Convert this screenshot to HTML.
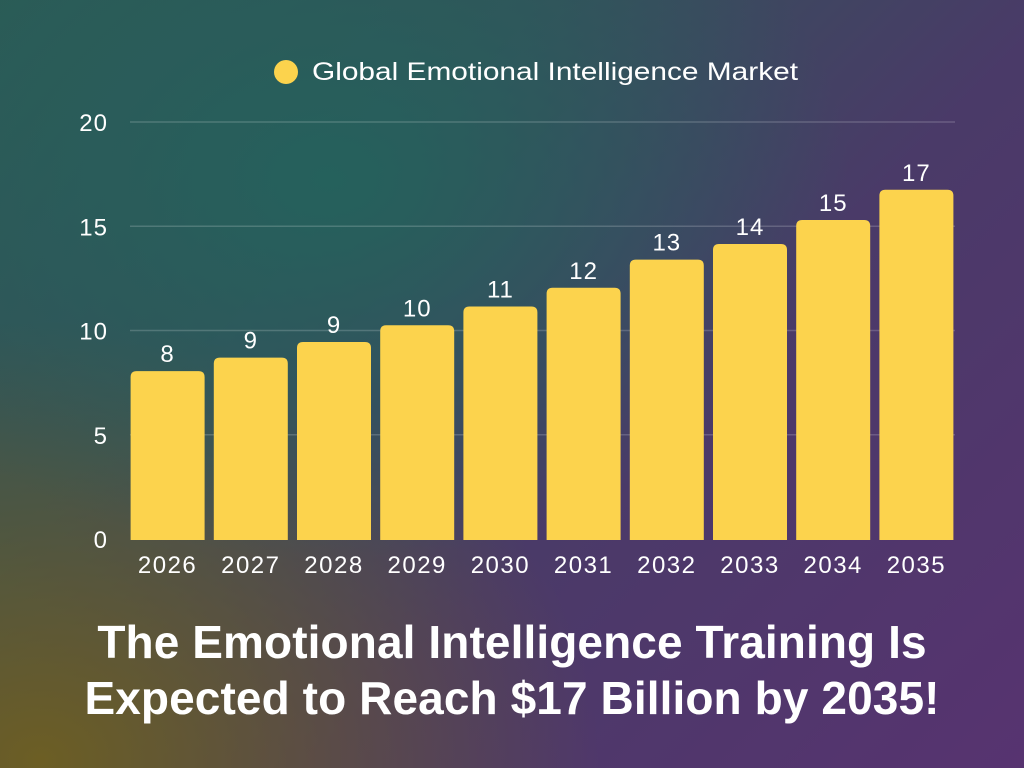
<!DOCTYPE html>
<html><head><meta charset="utf-8"><style>
html,body{margin:0;padding:0;width:1024px;height:768px;overflow:hidden}
body{font-family:"Liberation Sans",sans-serif;position:relative;
background:
radial-gradient(ellipse 520px 380px at 330px 180px, rgba(36,98,92,0.95), rgba(36,98,92,0) 100%),
radial-gradient(ellipse 560px 440px at 40px 760px, rgba(108,94,36,1), rgba(108,94,36,0) 100%),
linear-gradient(135deg,#2c5a55 0%,#35505a 30%,#4a3a68 60%,#573370 100%);}
svg{position:absolute;left:0;top:0}
.title{position:absolute;left:0;width:1024px;text-align:center;color:#fff;font-weight:bold;font-size:46px;line-height:56px;top:614px;letter-spacing:0.1px;white-space:nowrap}
</style></head><body>
<svg width="1024" height="768">
<g id="legend">
<circle cx="286" cy="72" r="12" fill="#fcd34d"></circle>
<text x="312" y="80" fill="#fff" font-size="25" textLength="486" lengthAdjust="spacingAndGlyphs" font-family="Liberation Sans, sans-serif">Global Emotional Intelligence Market</text>
</g>
<g id="grid"></g><g id="bars"></g><g id="labels"></g>
</svg>
<div class="title">The Emotional Intelligence Training Is<br>Expected to Reach $17 Billion by 2035!</div>
<script>
const categories=["2026","2027","2028","2029","2030","2031","2032","2033","2034","2035"];
const values=[8.05,8.7,9.45,10.25,11.15,12.05,13.4,14.15,15.3,16.75];
const valueLabels=["8","9","9","10","11","12","13","14","15","17"];
const yTicks=[0,5,10,15,20];
const NS="http://www.w3.org/2000/svg";
const x0=126,x1=958,yBase=539,yTop=122,yMax=20;
const band=(x1-x0)/categories.length,bw=74;
const y=v=>yBase-(v/yMax)*(yBase-yTop);
const xc=i=>x0+band*i+band/2;
function mk(t,a,p){const e=document.createElementNS(NS,t);for(const k in a)e.setAttribute(k,a[k]);p.appendChild(e);return e;}
const grid=document.getElementById('grid'),bars=document.getElementById('bars'),labels=document.getElementById('labels');
yTicks.forEach(t=>{
 if(t>0){const l=mk('line',{x1:130,x2:955,y1:y(t),y2:y(t),stroke:'rgba(255,255,255,0.18)','stroke-width':1.5},grid);
 
 }
 const tx=mk('text',{x:108,y:y(t)+9,fill:'#fff','font-size':24,'letter-spacing':1,'text-anchor':'end','font-family':'Liberation Sans, sans-serif'},grid);
 tx.textContent=t;
 
 
});
categories.forEach((c,i)=>{
 const top=y(values[i]);
 const b=mk('path',{d:`M${xc(i)-bw/2},${yBase+1} V${top+6} Q${xc(i)-bw/2},${top} ${xc(i)-bw/2+6},${top} H${xc(i)+bw/2-6} Q${xc(i)+bw/2},${top} ${xc(i)+bw/2},${top+6} V${yBase+1} Z`,fill:'#fcd34d'},bars);
 
 
 const v=mk('text',{x:xc(i),y:top-9,fill:'#fff','font-size':24,'letter-spacing':1,'text-anchor':'middle','font-family':'Liberation Sans, sans-serif'},labels);
 v.textContent=valueLabels[i];
 
 
 const xl=mk('text',{x:xc(i),y:573,fill:'#fff','font-size':24,'letter-spacing':1.5,'text-anchor':'middle','font-family':'Liberation Sans, sans-serif'},labels);
 xl.textContent=c;
 
 
});
</script>
</body></html>
